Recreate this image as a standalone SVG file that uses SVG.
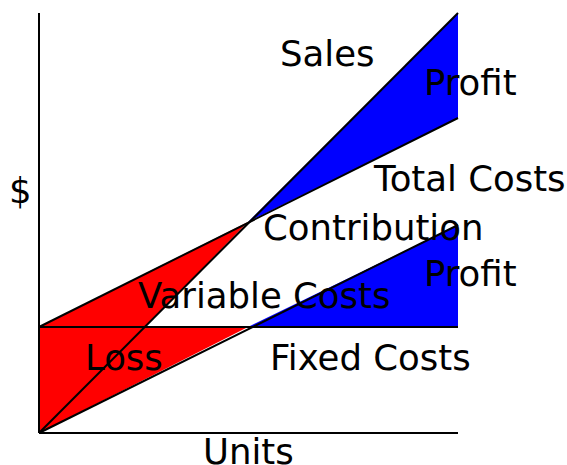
<svg xmlns="http://www.w3.org/2000/svg" width="567" height="465" viewBox="0 0 567 465">
<style>
.ln{stroke:#000;stroke-width:2;fill:none;stroke-linejoin:round}
.red{fill:#ff0000;stroke:none}
.blue{fill:#0000ff;stroke:none}
.lbl{font-family:"DejaVu Sans",sans-serif;font-size:35.5px;fill:#000}
</style>
<rect width="567" height="465" fill="#fff"/>
<g id="areas">
<polygon class="blue" points="248,222 458,13 458,118"/>
<polygon class="blue" points="248,327 458,327 458,225"/>
<polygon class="red" points="39,327 248,222 145,327"/>
<polygon class="red" points="39,327 248,327 39,433"/>
</g>
<g id="connectors">
<line id="y-axis" class="ln" x1="39" y1="13" x2="39" y2="433"/>
<line id="x-axis" class="ln" x1="39" y1="433" x2="458" y2="433"/>
<line id="sales" class="ln" x1="39" y1="433" x2="458" y2="13"/>
<line id="total-costs" class="ln" x1="39" y1="327" x2="458" y2="118"/>
<line id="fixed-costs" class="ln" x1="39" y1="327" x2="458" y2="327"/>
<line id="variable-costs" class="ln" x1="39" y1="433" x2="458" y2="225"/>
</g>
<g id="labels">
<text class="lbl" x="280" y="66">Sales</text>
<text class="lbl" x="424" y="95">Profit</text>
<text class="lbl" x="374" y="191">Total Costs</text>
<text class="lbl" x="263" y="240">Contribution</text>
<text class="lbl" x="424" y="286">Profit</text>
<text class="lbl" x="138" y="308">Variable Costs</text>
<text class="lbl" x="85" y="370">Loss</text>
<text class="lbl" x="270" y="370">Fixed Costs</text>
<text class="lbl" x="203" y="464">Units</text>
<text class="lbl" x="9" y="203">$</text>
</g>
</svg>
